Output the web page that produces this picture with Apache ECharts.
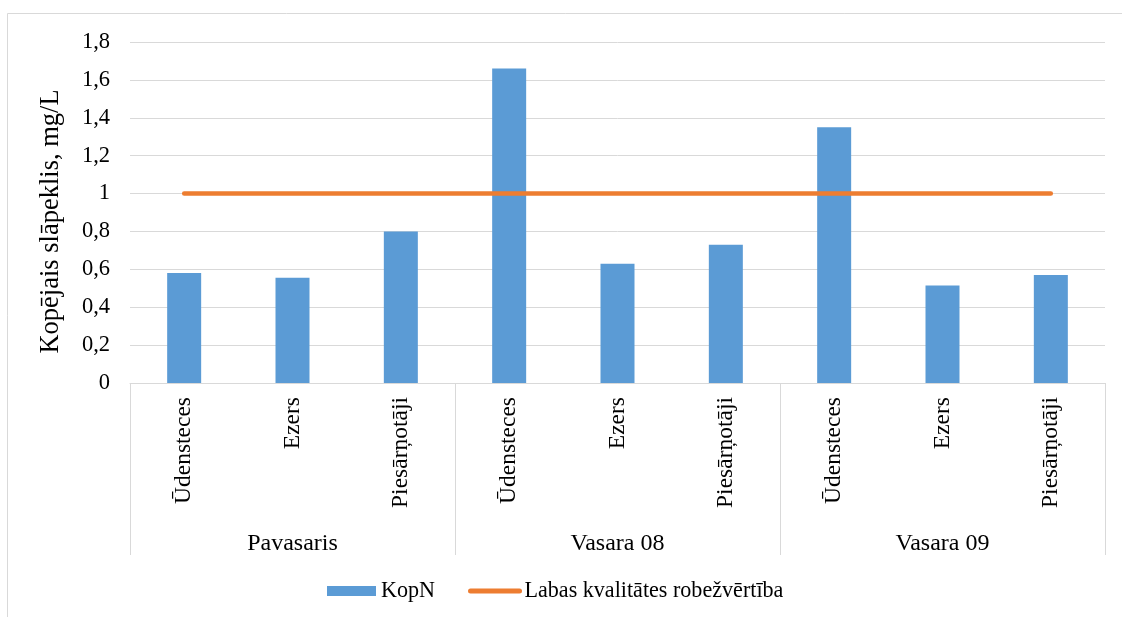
<!DOCTYPE html>
<html>
<head>
<meta charset="utf-8">
<script src="https://cdn.jsdelivr.net/npm/echarts@6/dist/echarts.min.js"></script>
<style>
  html, body { margin: 0; padding: 0; background: #fff; }
  #chart { width: 1122px; height: 617px; }
</style>
</head>
<body>
<div id="chart"></div>
<script>
// Total nitrogen by water-body type across three sampling seasons
const sites = ['Ūdensteces', 'Ezers', 'Piesārņotāji', 'Ūdensteces', 'Ezers', 'Piesārņotāji', 'Ūdensteces', 'Ezers', 'Piesārņotāji'];
const seasons = ['Pavasaris', 'Vasara 08', 'Vasara 09'];
const kopN = [0.58, 0.555, 0.80, 1.66, 0.63, 0.73, 1.35, 0.515, 0.57];
const limit = [1, 1, 1, 1, 1, 1, 1, 1, 1];
const yTicks = { min: 0, max: 1.8, step: 0.2 };

const FONT = '"Liberation Serif", "Times New Roman", serif';
const GRID_LINE = '#d9d9d9';

const chart = echarts.init(document.getElementById('chart'), null, { renderer: 'canvas' });

chart.setOption({
  animation: false,
  backgroundColor: '#ffffff',
  textStyle: { fontFamily: FONT },
  graphic: [{
    type: 'rect',
    shape: { x: 7.5, y: 13.5, width: 1200, height: 700 },
    style: { fill: 'none', stroke: GRID_LINE, lineWidth: 1 },
    silent: true,
    z: -10
  }],
  grid: { left: 130, right: 17, top: 42, bottom: 234, containLabel: false },
  legend: {
    bottom: 10,
    left: 322,
    itemGap: 33,
    itemWidth: 49,
    itemHeight: 10,
    textStyle: { fontFamily: FONT, fontSize: 22.1, color: '#000' },
    data: [
      { name: 'KopN', icon: 'rect' },
      {
        name: 'Labas kvalitātes robežvērtība',
        itemStyle: { opacity: 0 },
        lineStyle: { width: 5, cap: 'round', color: '#ED7D31' }
      }
    ]
  },
  xAxis: [
    {
      type: 'category',
      data: sites,
      position: 'bottom',
      axisLine: { show: true, lineStyle: { color: GRID_LINE, width: 1 } },
      axisTick: { show: false },
      axisLabel: {
        rotate: 90,
        margin: 14,
        interval: 0,
        fontFamily: FONT,
        fontSize: 23.5,
        color: '#000'
      }
    },
    {
      type: 'category',
      data: seasons,
      position: 'bottom',
      axisLine: { show: false },
      axisTick: { show: true, length: 172, lineStyle: { color: GRID_LINE, width: 1 } },
      axisLabel: {
        margin: 149,
        interval: 0,
        fontFamily: FONT,
        fontSize: 24,
        color: '#000'
      }
    }
  ],
  yAxis: {
    type: 'value',
    min: yTicks.min,
    max: yTicks.max,
    interval: yTicks.step,
    name: 'Kopējais slāpeklis, mg/L',
    nameLocation: 'middle',
    nameRotate: 90,
    nameGap: 65,
    nameTextStyle: { fontFamily: FONT, fontSize: 26.5, color: '#000', padding: [0, 18, 0, 0] },
    axisLine: { show: false },
    axisTick: { show: false },
    axisLabel: {
      margin: 20,
      fontFamily: FONT,
      fontSize: 22.5,
      color: '#000',
      formatter: v => String(Math.round(v * 10) / 10).replace('.', ',')
    },
    splitLine: { show: true, lineStyle: { color: GRID_LINE, width: 1 } }
  },
  series: [
    {
      name: 'KopN',
      type: 'bar',
      xAxisIndex: 0,
      data: kopN,
      barWidth: 34,
      itemStyle: { color: '#5B9BD5' }
    },
    {
      name: 'Labas kvalitātes robežvērtība',
      type: 'line',
      xAxisIndex: 0,
      data: limit,
      symbol: 'none',
      lineStyle: { color: '#ED7D31', width: 4.5, cap: 'round' },
      itemStyle: { color: '#ED7D31' },
      z: 5
    }
  ]
});
</script>
</body>
</html>
